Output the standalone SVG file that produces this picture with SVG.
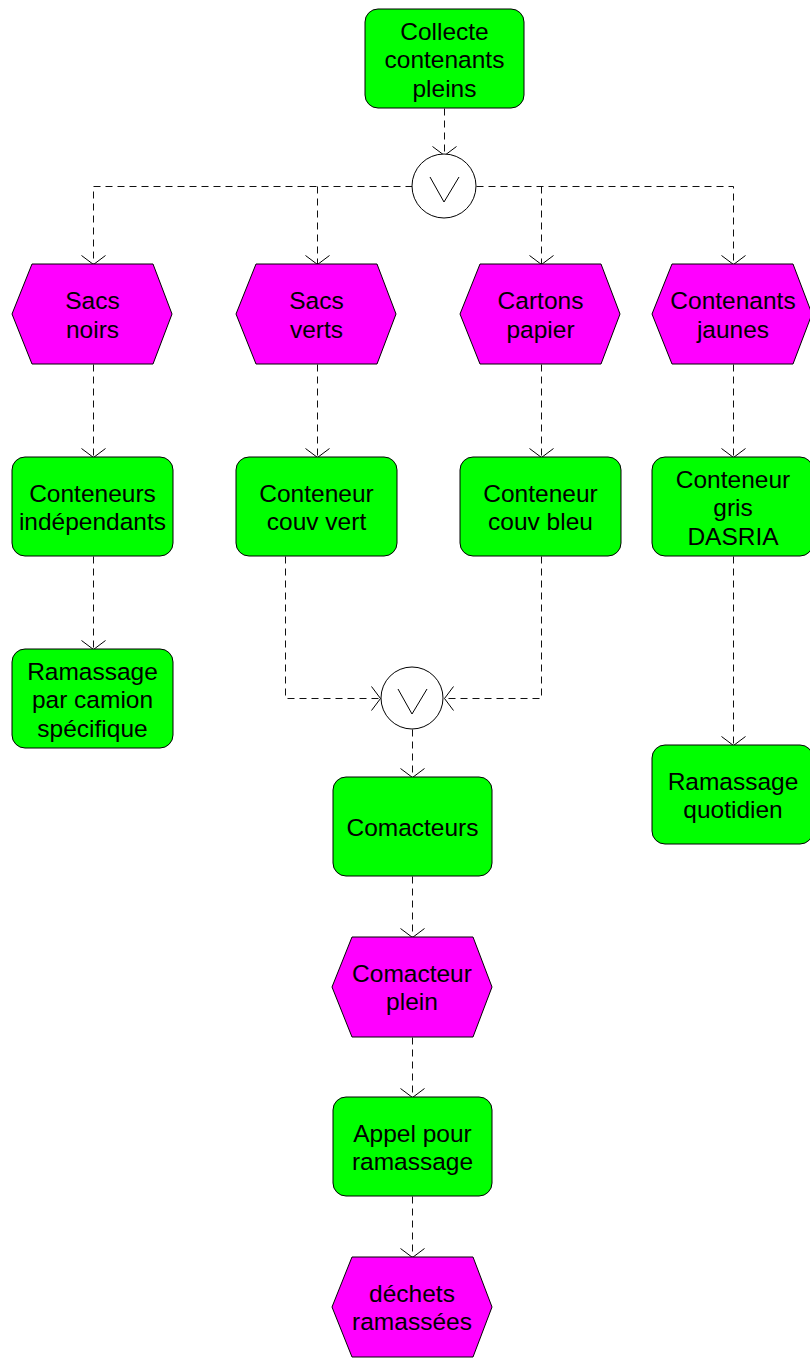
<svg xmlns="http://www.w3.org/2000/svg" width="810" height="1358" viewBox="0 0 810 1358">
<defs>
<style>
.fn{fill:#00ff00;stroke:#000;stroke-width:1}
.ev{fill:#ff00ff;stroke:#000;stroke-width:1}
.or{fill:#fff;stroke:#000;stroke-width:1}
.t{font-family:"Liberation Sans",Arial,sans-serif;font-size:24.5px;fill:#000;text-anchor:middle}
.c{fill:none;stroke:#111;stroke-width:1;stroke-dasharray:7,5}
</style>
<marker id="ah" markerUnits="userSpaceOnUse" markerWidth="30" markerHeight="30" viewBox="-15 -15 30 30" refX="0" refY="0" orient="auto">
<path d="M-9,-12 L0,0 L-9,12" fill="none" stroke="#000" stroke-width="1"/>
</marker>
</defs>
<rect width="810" height="1358" fill="#fff"/>
<g id="connectors" transform="translate(0.5,0.5)">
<path class="c" d="M444,108 V155" marker-end="url(#ah)"/>
<path class="c" d="M412,186 H93 V264" marker-end="url(#ah)"/>
<path class="c" d="M317,186 V264" marker-end="url(#ah)"/>
<path class="c" d="M476,186 H733 V264" marker-end="url(#ah)"/>
<path class="c" d="M541,186 V264" marker-end="url(#ah)"/>
<path class="c" d="M93,364 V457" marker-end="url(#ah)"/>
<path class="c" d="M317,364 V457" marker-end="url(#ah)"/>
<path class="c" d="M541,364 V457" marker-end="url(#ah)"/>
<path class="c" d="M733,364 V457" marker-end="url(#ah)"/>
<path class="c" d="M93,556 V649" marker-end="url(#ah)"/>
<path class="c" d="M733,556 V745" marker-end="url(#ah)"/>
<path class="c" d="M285,556 V698 H380" marker-end="url(#ah)"/>
<path class="c" d="M541,556 V698 H444" marker-end="url(#ah)"/>
<path class="c" d="M412,729 V777" marker-end="url(#ah)"/>
<path class="c" d="M412,876 V937" marker-end="url(#ah)"/>
<path class="c" d="M412,1037 V1097" marker-end="url(#ah)"/>
<path class="c" d="M412,1196 V1257" marker-end="url(#ah)"/>
</g>
<g id="n-collecte"><rect class="fn" x="365" y="9" width="159" height="99" rx="13"/><text class="t" x="444.5" y="39.5">Collecte</text><text class="t" x="444.5" y="68">contenants</text><text class="t" x="444.5" y="96.5">pleins</text></g>
<g id="or1"><circle class="or" cx="444" cy="186" r="32"/><path d="M430,177 L444,202 L459,177" fill="none" stroke="#000"/></g>
<g id="n-sacs-noirs"><polygon class="ev" points="32,264 153,264 172,314 153,364 32,364 12,314"/><text class="t" x="92.5" y="309">Sacs</text><text class="t" x="92.5" y="337.5">noirs</text></g>
<g id="n-sacs-verts"><polygon class="ev" points="256,264 377,264 396,314 377,364 256,364 236,314"/><text class="t" x="316.5" y="309">Sacs</text><text class="t" x="316.5" y="337.5">verts</text></g>
<g id="n-cartons"><polygon class="ev" points="480,264 601,264 620,314 601,364 480,364 460,314"/><text class="t" x="540.5" y="309">Cartons</text><text class="t" x="540.5" y="337.5">papier</text></g>
<g id="n-contenants-jaunes"><polygon class="ev" points="672,264 793,264 812,314 793,364 672,364 652,314"/><text class="t" x="733" y="309">Contenants</text><text class="t" x="733" y="337.5">jaunes</text></g>
<g id="n-conteneurs-indep"><rect class="fn" x="12" y="457" width="161" height="99" rx="13"/><text class="t" x="92.5" y="501.5">Conteneurs</text><text class="t" x="92.5" y="530">indépendants</text></g>
<g id="n-couv-vert"><rect class="fn" x="236" y="457" width="161" height="99" rx="13"/><text class="t" x="316.5" y="501.5">Conteneur</text><text class="t" x="316.5" y="530">couv vert</text></g>
<g id="n-couv-bleu"><rect class="fn" x="460" y="457" width="161" height="99" rx="13"/><text class="t" x="540.5" y="501.5">Conteneur</text><text class="t" x="540.5" y="530">couv bleu</text></g>
<g id="n-gris-dasria"><rect class="fn" x="652" y="457" width="161" height="99" rx="13"/><text class="t" x="733" y="487.5">Conteneur</text><text class="t" x="733" y="516">gris</text><text class="t" x="733" y="544.5">DASRIA</text></g>
<g id="n-ramassage-camion"><rect class="fn" x="12" y="649" width="161" height="99" rx="13"/><text class="t" x="92.5" y="679.5">Ramassage</text><text class="t" x="92.5" y="708">par camion</text><text class="t" x="92.5" y="736.5">spécifique</text></g>
<g id="or2"><circle class="or" cx="412" cy="698" r="31"/><path d="M398,689 L412,714 L427,689" fill="none" stroke="#000"/></g>
<g id="n-ramassage-quotidien"><rect class="fn" x="652" y="745" width="161" height="99" rx="13"/><text class="t" x="733" y="789.5">Ramassage</text><text class="t" x="733" y="818">quotidien</text></g>
<g id="n-comacteurs"><rect class="fn" x="333" y="777" width="159" height="99" rx="13"/><text class="t" x="412.5" y="835.5">Comacteurs</text></g>
<g id="n-comacteur-plein"><polygon class="ev" points="352,937 473,937 492,987 473,1037 352,1037 332,987"/><text class="t" x="412" y="981.5">Comacteur</text><text class="t" x="412" y="1010">plein</text></g>
<g id="n-appel"><rect class="fn" x="333" y="1097" width="159" height="99" rx="13"/><text class="t" x="412.5" y="1141.5">Appel pour</text><text class="t" x="412.5" y="1170">ramassage</text></g>
<g id="n-dechets"><polygon class="ev" points="352,1257 473,1257 492,1307 473,1357 352,1357 332,1307"/><text class="t" x="412" y="1301.5">déchets</text><text class="t" x="412" y="1330">ramassées</text></g>
</svg>
